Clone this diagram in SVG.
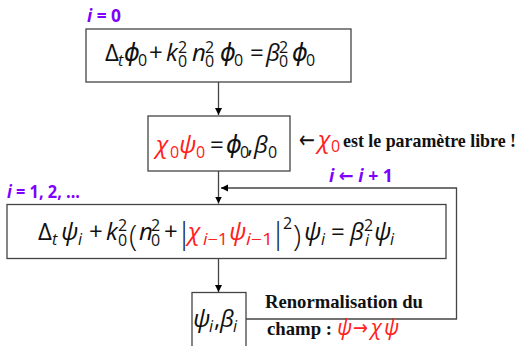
<svg xmlns="http://www.w3.org/2000/svg" width="521" height="346" viewBox="0 0 521 346">
<defs>
<marker id="ah" markerWidth="8" markerHeight="8" refX="7" refY="4" orient="auto" markerUnits="userSpaceOnUse">
<path d="M0,0.5 L7,4 L0,7.5 Z" fill="#000"/>
</marker>
<style>
.box{fill:#fff;stroke:#444;stroke-width:1.3}
.ln{fill:none;stroke:#444;stroke-width:1.3}
.m{font-family:"Open Sans","DejaVu Sans",sans-serif;font-size:24px;fill:#111}
.i{font-style:italic}
.s{font-size:16px}
.big{font-size:30px;font-weight:300}
.r{fill:#ff2020}
.p{font-family:"Open Sans","DejaVu Sans",sans-serif;font-size:18px;font-weight:bold;fill:#7f00ff}
.b{font-family:"Liberation Serif","DejaVu Serif",serif;font-size:19px;font-weight:bold;fill:#111}
</style>
</defs>
<rect width="521" height="346" fill="#fff"/>
<g id="connectors">
<line class="ln" x1="218.5" y1="82" x2="218.5" y2="115" marker-end="url(#ah)"/>
<line class="ln" x1="218.5" y1="171" x2="218.5" y2="203.5" marker-end="url(#ah)"/>
<line class="ln" x1="218.5" y1="258.5" x2="218.5" y2="292" marker-end="url(#ah)"/>
<polyline class="ln" points="246,319 456.5,319 456.5,188 221,188" marker-end="url(#ah)"/>
</g>
<g id="label-i0"><text class="p" x="87" y="22" textLength="34" lengthAdjust="spacingAndGlyphs"><tspan font-style="italic">i</tspan> = 0</text></g>
<g id="node1">
<rect class="box" x="86" y="29" width="265" height="53"/>
<text class="m">
<tspan x="105" y="61">Δ</tspan><tspan class="i s" x="118" y="66">t</tspan><tspan class="i" x="124" y="61">ϕ</tspan><tspan class="s" x="138" y="66">0</tspan><tspan x="149" y="61">+</tspan><tspan class="i" x="166" y="61">k</tspan><tspan class="s" x="178" y="53">2</tspan><tspan class="s" x="178" y="67">0</tspan><tspan class="i" x="192" y="61">n</tspan><tspan class="s" x="205" y="53">2</tspan><tspan class="s" x="205" y="67">0</tspan><tspan class="i" x="220" y="61">ϕ</tspan><tspan class="s" x="234" y="66">0</tspan><tspan x="250" y="61">=</tspan><tspan class="i" x="266" y="61">β</tspan><tspan class="s" x="279" y="53">2</tspan><tspan class="s" x="279" y="67">0</tspan><tspan class="i" x="292" y="61">ϕ</tspan><tspan class="s" x="306" y="66">0</tspan>
</text>
</g>
<g id="node2">
<rect class="box" x="148" y="116" width="142" height="55"/>
<text class="m">
<tspan class="i r" x="156" y="153">χ</tspan><tspan class="s r" x="170" y="158">0</tspan><tspan class="i r" x="179" y="153">ψ</tspan><tspan class="s r" x="196" y="158">0</tspan><tspan x="210" y="153">=</tspan><tspan class="i" x="226" y="153">ϕ</tspan><tspan class="s" x="240" y="158">0</tspan><tspan x="247" y="153">,</tspan><tspan class="i" x="254" y="153">β</tspan><tspan class="s" x="268" y="158">0</tspan>
</text>
</g>
<g id="note-free">
<text class="m" x="299" y="148" textLength="16" lengthAdjust="spacingAndGlyphs">←</text>
<text class="m"><tspan class="i r" x="318" y="148">χ</tspan><tspan class="s r" x="331" y="152">0</tspan></text>
<text class="b" x="343" y="147" textLength="173" lengthAdjust="spacingAndGlyphs">est le paramètre libre !</text>
</g>
<g id="label-inc"><text class="p" x="329" y="182" textLength="64" lengthAdjust="spacingAndGlyphs"><tspan font-style="italic">i</tspan> ← <tspan font-style="italic">i</tspan> + 1</text></g>
<g id="label-i12"><text class="p" x="7" y="198" textLength="73" lengthAdjust="spacingAndGlyphs"><tspan font-style="italic">i</tspan> = 1, 2, ...</text></g>
<g id="node3">
<rect class="box" x="7" y="204.5" width="439" height="54"/>
<text class="m">
<tspan x="38" y="240">Δ</tspan><tspan class="i s" x="52" y="245">t</tspan><tspan class="i" x="61" y="240">ψ</tspan><tspan class="i s" x="78" y="245">i</tspan><tspan x="89" y="240">+</tspan><tspan class="i" x="106" y="240">k</tspan><tspan class="s" x="118" y="231">2</tspan><tspan class="s" x="118" y="246">0</tspan><tspan class="big" x="129" y="246">(</tspan><tspan class="i" x="139" y="240">n</tspan><tspan class="s" x="151" y="231">2</tspan><tspan class="s" x="151" y="246">0</tspan><tspan x="164" y="240">+</tspan><tspan class="big" x="176" y="244">|</tspan><tspan class="i r" x="188" y="240">χ</tspan><tspan class="s r" x="203" y="245" textLength="25" lengthAdjust="spacingAndGlyphs"><tspan class="i">i</tspan>−1</tspan><tspan class="i r" x="229" y="240">ψ</tspan><tspan class="s r" x="246" y="245" textLength="27" lengthAdjust="spacingAndGlyphs"><tspan class="i">i</tspan>−1</tspan><tspan class="big" x="270" y="244">|</tspan><tspan class="s" x="283" y="229">2</tspan><tspan class="big" x="293" y="246">)</tspan><tspan class="i" x="304" y="240">ψ</tspan><tspan class="i s" x="321" y="245">i</tspan><tspan x="331" y="240">=</tspan><tspan class="i" x="350" y="240">β</tspan><tspan class="s" x="364" y="231">2</tspan><tspan class="i s" x="365" y="246">i</tspan><tspan class="i" x="374" y="240">ψ</tspan><tspan class="i s" x="390" y="245">i</tspan>
</text>
</g>
<g id="node4">
<rect class="box" x="192" y="292.5" width="54" height="60"/>
<text class="m">
<tspan class="i" x="193" y="327">ψ</tspan><tspan class="i s" x="209" y="332">i</tspan><tspan x="214" y="327">,</tspan><tspan class="i" x="220" y="327">β</tspan><tspan class="i s" x="233" y="332">i</tspan>
</text>
</g>
<g id="note-renorm">
<text class="b" x="265" y="308" textLength="158" lengthAdjust="spacingAndGlyphs">Renormalisation du</text>
<text class="b" x="267" y="335" textLength="65" lengthAdjust="spacingAndGlyphs">champ :</text>
<text class="m r" style="font-size:21px"><tspan class="i" x="337" y="335">ψ</tspan><tspan x="353" y="335" textLength="15" lengthAdjust="spacingAndGlyphs">→</tspan><tspan class="i" x="371" y="335">χ</tspan><tspan class="i" x="384" y="335">ψ</tspan></text>
</g>
</svg>
